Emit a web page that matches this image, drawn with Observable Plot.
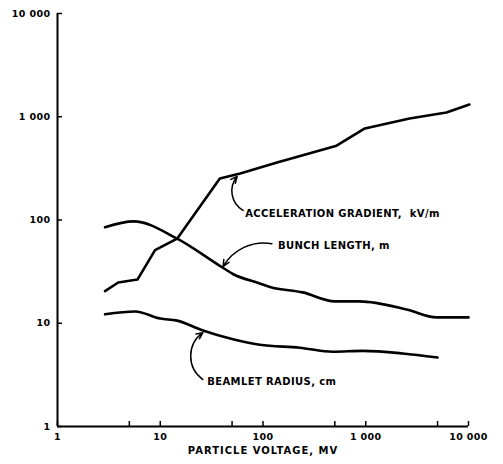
<!DOCTYPE html>
<html>
<head>
<meta charset="utf-8">
<script src="https://cdn.jsdelivr.net/npm/d3@7"></script>
<script src="https://cdn.jsdelivr.net/npm/@observablehq/plot@0.6"></script>
<style>
  html, body { margin: 0; padding: 0; background: #fff; }
  #chart svg { display: block; }
  #chart svg g[aria-label="x-axis label"] text { letter-spacing: 1px; font-size: 10px; }
</style>
</head>
<body>
<div id="chart"></div>
<script>
// Acceleration gradient, kV/m
const accelVoltage = [2.9, 3.9, 6.0, 8.9, 14.6, 38, 60, 137, 520, 980, 2670, 6100, 10200];
const accelValue   = [20.5, 24.8, 26.5, 51, 66, 252, 282, 360, 525, 770, 960, 1100, 1315];

// Bunch length, m
const bunchVoltage = [2.9, 5.5, 14.6, 38, 51, 93, 117, 244, 500, 870, 2500, 4900, 10000];
const bunchValue   = [85, 97, 66, 36, 30, 24.3, 22.5, 19.9, 16.3, 16.3, 13.6, 11.4, 11.4];

// Beamlet radius, cm
const beamVoltage = [2.9, 5.7, 10, 14.6, 26, 51, 93, 228, 478, 940, 2290, 5000];
const beamValue   = [12.2, 13, 11.1, 10.6, 8.5, 7.0, 6.2, 5.8, 5.3, 5.4, 5.1, 4.66];

// Axis ticks
const xTicks = [1, 5, 10, 50, 100, 500, 1000, 5000, 10000];
const xTickLabels = ["1", "5", "10", "50", "100", "500", "1 000", "5 000", "10 000"];
const yTicks = [1, 10, 100, 1000, 10000];
const yTickLabels = ["1", "10", "100", "1 000", "10 000"];

// Annotation labels (text start point in data units)
const labelText = ["ACCELERATION GRADIENT,  kV/m", "BUNCH LENGTH, m", "BEAMLET RADIUS, cm"];
const labelVoltage = [67, 140, 28.6];
const labelValue = [116, 56.6, 2.73];

// Leader arrows (from label to curve)
const arrowX1 = [64, 122, 26];
const arrowY1 = [124, 59, 2.85];
const arrowX2 = [56, 41, 26];
const arrowY2 = [264, 35.5, 8.1];

const toRows = (xs, ys) => xs.map((x, i) => ({x, y: ys[i]}));
const accel = toRows(accelVoltage, accelValue);
const bunch = toRows(bunchVoltage, bunchValue);
const beam = toRows(beamVoltage, beamValue);
const labels = labelText.map((t, i) => ({t, x: labelVoltage[i], y: labelValue[i]}));
const arrows = arrowX1.map((x1, i) => ({x1, y1: arrowY1[i], x2: arrowX2[i], y2: arrowY2[i]}));
const xLab = new Map(xTicks.map((d, i) => [d, xTickLabels[i]]));
const yLab = new Map(yTicks.map((d, i) => [d, yTickLabels[i]]));

const W = 503, H = 464, mL = 57, mR = 35, mT = 13, mB = 38;
const frameW = W - mL - mR, frameH = H - mT - mB;
const font = "'DejaVu Sans', 'Liberation Sans', sans-serif";

const arrowOpts = {x1: "x1", y1: "y1", x2: "x2", y2: "y2", stroke: "#000", strokeWidth: 1.5, headLength: 7, headAngle: 50};

const chart = Plot.plot({
  width: W,
  height: H,
  marginLeft: mL,
  marginRight: mR,
  marginTop: mT,
  marginBottom: mB,
  style: {fontFamily: font, fontWeight: "bold", fontSize: "9.5px", color: "#000", background: "#fff", letterSpacing: "0.4px"},
  x: {type: "log", domain: [1, 10000]},
  y: {type: "log", domain: [1, 10000]},
  marks: [
    Plot.ruleX([1], {stroke: "#000", strokeWidth: 2}),
    Plot.ruleY([1], {stroke: "#000", strokeWidth: 2}),
    Plot.tickX(xTicks, {x: d => d, stroke: "#000", strokeWidth: 1.5, insetTop: frameH - 5}),
    Plot.tickY(yTicks, {y: d => d, stroke: "#000", strokeWidth: 1.5, insetRight: frameW - 5}),
    Plot.axisX({ticks: xTicks, tickFormat: d => xLab.get(d), tickSize: 0, tickPadding: 7,
      label: "PARTICLE VOLTAGE, MV", labelAnchor: "center", labelArrow: "none", labelOffset: 27}),
    Plot.axisY({ticks: yTicks, tickFormat: d => yLab.get(d), tickSize: 0, tickPadding: 7, label: null}),
    Plot.line(accel, {x: "x", y: "y", stroke: "#000", strokeWidth: 2.6, strokeLinejoin: "round"}),
    Plot.line(bunch, {x: "x", y: "y", stroke: "#000", strokeWidth: 2.6, strokeLinejoin: "round", curve: "monotone-x"}),
    Plot.line(beam, {x: "x", y: "y", stroke: "#000", strokeWidth: 2.6, strokeLinejoin: "round", curve: "monotone-x"}),
    Plot.arrow([arrows[0]], {...arrowOpts, bend: 50}),
    Plot.arrow([arrows[1]], {...arrowOpts, bend: -35}),
    Plot.arrow([arrows[2]], {...arrowOpts, bend: 55}),
    Plot.text(labels, {x: "x", y: "y", text: "t", textAnchor: "start", fill: "#000", fontSize: 10, fontWeight: "bold", letterSpacing: "0.9px"})
  ]
});
document.getElementById("chart").append(chart);
</script>
</body>
</html>
